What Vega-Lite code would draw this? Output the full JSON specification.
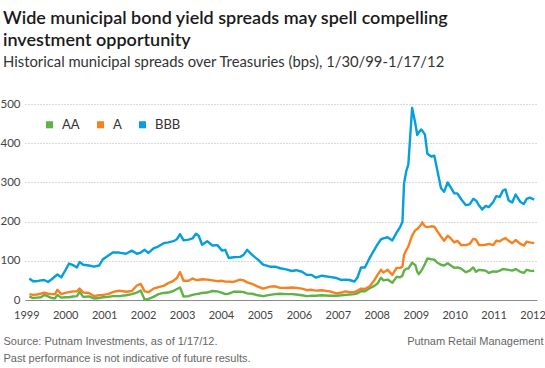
{
  "$schema": "https://vega.github.io/schema/vega-lite/v6.json",
  "width": 512,
  "height": 196,
  "autosize": {"type": "none"},
  "padding": {"left": 25, "top": 104, "right": 8, "bottom": 68},
  "background": "white",
  "title": {
    "text": ["Wide municipal bond yield spreads may spell compelling", "investment opportunity"],
    "subtitle": "Historical municipal spreads over Treasuries (bps), 1/30/99-1/17/12",
    "anchor": "start",
    "frame": "group",
    "dx": -22,
    "offset": 28,
    "font": "Lato",
    "fontSize": 18,
    "fontWeight": 600,
    "color": "#1a1a1a",
    "lineHeight": 22,
    "subtitleFont": "Lato",
    "subtitleFontSize": 14.8,
    "subtitleColor": "#333333",
    "subtitlePadding": 5
  },
  "data": {
    "values": [
      {"date": "1999-01-30", "AA": 9, "A": 15, "BBB": 55},
      {"date": "1999-03-05", "AA": 5, "A": 13, "BBB": 48},
      {"date": "1999-04-12", "AA": 6, "A": 14, "BBB": 48},
      {"date": "1999-05-18", "AA": 7, "A": 16, "BBB": 50},
      {"date": "1999-06-18", "AA": 13, "A": 19, "BBB": 51},
      {"date": "1999-07-24", "AA": 9, "A": 16, "BBB": 46},
      {"date": "1999-08-28", "AA": 5, "A": 15, "BBB": 53},
      {"date": "1999-09-27", "AA": 4, "A": 15, "BBB": 60},
      {"date": "1999-10-20", "AA": 13, "A": 26, "BBB": 65},
      {"date": "1999-11-25", "AA": 6, "A": 15, "BBB": 58},
      {"date": "2000-01-01", "AA": 7, "A": 18, "BBB": 75},
      {"date": "2000-02-06", "AA": 7, "A": 20, "BBB": 93},
      {"date": "2000-03-14", "AA": 9, "A": 22, "BBB": 89},
      {"date": "2000-04-20", "AA": 10, "A": 22, "BBB": 83},
      {"date": "2000-05-15", "AA": 21, "A": 29, "BBB": 97},
      {"date": "2000-06-18", "AA": 8, "A": 19, "BBB": 90},
      {"date": "2000-08-10", "AA": 9, "A": 18, "BBB": 88},
      {"date": "2000-09-27", "AA": 4, "A": 10, "BBB": 85},
      {"date": "2000-11-14", "AA": 5, "A": 12, "BBB": 88},
      {"date": "2000-12-20", "AA": 7, "A": 13, "BBB": 104},
      {"date": "2001-02-06", "AA": 8, "A": 15, "BBB": 113},
      {"date": "2001-03-22", "AA": 10, "A": 20, "BBB": 121},
      {"date": "2001-05-19", "AA": 10, "A": 24, "BBB": 121},
      {"date": "2001-07-24", "AA": 12, "A": 21, "BBB": 118},
      {"date": "2001-09-17", "AA": 15, "A": 23, "BBB": 126},
      {"date": "2001-11-03", "AA": 19, "A": 37, "BBB": 118},
      {"date": "2001-12-09", "AA": 24, "A": 41, "BBB": 121},
      {"date": "2002-01-15", "AA": 1, "A": 22, "BBB": 128},
      {"date": "2002-02-20", "AA": 3, "A": 20, "BBB": 120},
      {"date": "2002-04-08", "AA": 8, "A": 29, "BBB": 132},
      {"date": "2002-05-26", "AA": 15, "A": 33, "BBB": 137},
      {"date": "2002-07-12", "AA": 18, "A": 36, "BBB": 145},
      {"date": "2002-08-25", "AA": 19, "A": 43, "BBB": 147},
      {"date": "2002-10-12", "AA": 23, "A": 49, "BBB": 150},
      {"date": "2002-11-14", "AA": 28, "A": 56, "BBB": 155},
      {"date": "2002-12-13", "AA": 32, "A": 71, "BBB": 168},
      {"date": "2003-01-15", "AA": 9, "A": 49, "BBB": 152},
      {"date": "2003-03-03", "AA": 10, "A": 49, "BBB": 154},
      {"date": "2003-04-09", "AA": 13, "A": 55, "BBB": 157},
      {"date": "2003-05-11", "AA": 15, "A": 51, "BBB": 169},
      {"date": "2003-06-06", "AA": 16, "A": 51, "BBB": 164},
      {"date": "2003-07-08", "AA": 18, "A": 53, "BBB": 141},
      {"date": "2003-08-25", "AA": 19, "A": 52, "BBB": 150},
      {"date": "2003-10-12", "AA": 23, "A": 50, "BBB": 139},
      {"date": "2003-11-28", "AA": 22, "A": 48, "BBB": 140},
      {"date": "2004-01-12", "AA": 18, "A": 49, "BBB": 126},
      {"date": "2004-02-10", "AA": 15, "A": 47, "BBB": 128},
      {"date": "2004-03-14", "AA": 16, "A": 47, "BBB": 107},
      {"date": "2004-04-27", "AA": 21, "A": 46, "BBB": 109},
      {"date": "2004-06-28", "AA": 21, "A": 52, "BBB": 110},
      {"date": "2004-07-31", "AA": 20, "A": 50, "BBB": 115},
      {"date": "2004-09-02", "AA": 17, "A": 45, "BBB": 128},
      {"date": "2004-10-19", "AA": 16, "A": 41, "BBB": 115},
      {"date": "2004-12-13", "AA": 12, "A": 34, "BBB": 103},
      {"date": "2005-01-30", "AA": 10, "A": 29, "BBB": 90},
      {"date": "2005-04-05", "AA": 13, "A": 34, "BBB": 85},
      {"date": "2005-05-23", "AA": 15, "A": 35, "BBB": 85},
      {"date": "2005-07-09", "AA": 16, "A": 31, "BBB": 81},
      {"date": "2005-09-02", "AA": 15, "A": 31, "BBB": 78},
      {"date": "2005-10-27", "AA": 15, "A": 32, "BBB": 74},
      {"date": "2005-12-06", "AA": 14, "A": 31, "BBB": 76},
      {"date": "2006-01-30", "AA": 12, "A": 29, "BBB": 72},
      {"date": "2006-03-18", "AA": 10, "A": 25, "BBB": 64},
      {"date": "2006-05-01", "AA": 11, "A": 26, "BBB": 64},
      {"date": "2006-06-10", "AA": 11, "A": 24, "BBB": 57},
      {"date": "2006-08-04", "AA": 12, "A": 25, "BBB": 62},
      {"date": "2006-10-16", "AA": 11, "A": 22, "BBB": 59},
      {"date": "2006-12-20", "AA": 11, "A": 17, "BBB": 56},
      {"date": "2007-02-06", "AA": 12, "A": 19, "BBB": 51},
      {"date": "2007-03-14", "AA": 13, "A": 22, "BBB": 52},
      {"date": "2007-04-23", "AA": 14, "A": 20, "BBB": 51},
      {"date": "2007-06-06", "AA": 15, "A": 20, "BBB": 47},
      {"date": "2007-07-05", "AA": 17, "A": 24, "BBB": 58},
      {"date": "2007-08-07", "AA": 23, "A": 29, "BBB": 83},
      {"date": "2007-09-12", "AA": 22, "A": 28, "BBB": 83},
      {"date": "2007-10-26", "AA": 30, "A": 35, "BBB": 107},
      {"date": "2007-12-09", "AA": 36, "A": 50, "BBB": 128},
      {"date": "2008-01-08", "AA": 42, "A": 64, "BBB": 142},
      {"date": "2008-02-10", "AA": 57, "A": 77, "BBB": 155},
      {"date": "2008-03-03", "AA": 50, "A": 70, "BBB": 157},
      {"date": "2008-04-12", "AA": 52, "A": 77, "BBB": 160},
      {"date": "2008-05-26", "AA": 44, "A": 64, "BBB": 152},
      {"date": "2008-07-05", "AA": 59, "A": 82, "BBB": 172},
      {"date": "2008-08-07", "AA": 58, "A": 82, "BBB": 186},
      {"date": "2008-08-29", "AA": 62, "A": 85, "BBB": 199},
      {"date": "2008-09-13", "AA": 75, "A": 115, "BBB": 297},
      {"date": "2008-10-05", "AA": 80, "A": 128, "BBB": 330},
      {"date": "2008-10-23", "AA": 80, "A": 136, "BBB": 345},
      {"date": "2008-11-28", "AA": 95, "A": 165, "BBB": 490},
      {"date": "2008-12-28", "AA": 89, "A": 178, "BBB": 450},
      {"date": "2009-01-15", "AA": 72, "A": 181, "BBB": 421},
      {"date": "2009-01-30", "AA": 66, "A": 185, "BBB": 428},
      {"date": "2009-02-20", "AA": 74, "A": 193, "BBB": 435},
      {"date": "2009-03-03", "AA": 79, "A": 198, "BBB": 432},
      {"date": "2009-03-28", "AA": 92, "A": 188, "BBB": 422},
      {"date": "2009-04-20", "AA": 106, "A": 186, "BBB": 373},
      {"date": "2009-05-26", "AA": 104, "A": 188, "BBB": 366},
      {"date": "2009-06-24", "AA": 103, "A": 187, "BBB": 368},
      {"date": "2009-07-23", "AA": 95, "A": 175, "BBB": 330},
      {"date": "2009-08-25", "AA": 90, "A": 162, "BBB": 286},
      {"date": "2009-09-24", "AA": 88, "A": 151, "BBB": 276},
      {"date": "2009-10-27", "AA": 94, "A": 164, "BBB": 300},
      {"date": "2009-11-25", "AA": 88, "A": 157, "BBB": 287},
      {"date": "2009-12-28", "AA": 82, "A": 147, "BBB": 272},
      {"date": "2010-01-26", "AA": 83, "A": 151, "BBB": 272},
      {"date": "2010-03-03", "AA": 80, "A": 140, "BBB": 257},
      {"date": "2010-04-16", "AA": 71, "A": 140, "BBB": 242},
      {"date": "2010-05-22", "AA": 75, "A": 143, "BBB": 244},
      {"date": "2010-06-24", "AA": 83, "A": 156, "BBB": 258},
      {"date": "2010-07-20", "AA": 72, "A": 154, "BBB": 254},
      {"date": "2010-08-18", "AA": 77, "A": 140, "BBB": 241},
      {"date": "2010-09-16", "AA": 76, "A": 140, "BBB": 231},
      {"date": "2010-10-19", "AA": 75, "A": 141, "BBB": 240},
      {"date": "2010-11-17", "AA": 69, "A": 143, "BBB": 237},
      {"date": "2010-12-28", "AA": 73, "A": 140, "BBB": 250},
      {"date": "2011-01-26", "AA": 72, "A": 151, "BBB": 265},
      {"date": "2011-02-28", "AA": 75, "A": 150, "BBB": 263},
      {"date": "2011-03-29", "AA": 79, "A": 155, "BBB": 279},
      {"date": "2011-04-23", "AA": 78, "A": 158, "BBB": 282},
      {"date": "2011-05-22", "AA": 77, "A": 151, "BBB": 254},
      {"date": "2011-06-24", "AA": 75, "A": 145, "BBB": 249},
      {"date": "2011-07-27", "AA": 79, "A": 153, "BBB": 269},
      {"date": "2011-09-09", "AA": 72, "A": 143, "BBB": 250},
      {"date": "2011-10-12", "AA": 69, "A": 139, "BBB": 245},
      {"date": "2011-11-07", "AA": 77, "A": 149, "BBB": 258},
      {"date": "2011-12-06", "AA": 75, "A": 147, "BBB": 261},
      {"date": "2012-01-17", "AA": 74, "A": 145, "BBB": 256}
    ]
  },
  "transform": [{"fold": ["AA", "A", "BBB"], "as": ["series", "value"]}],
  "mark": {"type": "line", "strokeWidth": 2.4, "strokeJoin": "round"},
  "encoding": {
    "x": {
      "field": "date",
      "type": "temporal",
      "scale": {"type": "utc", "domain": [{"year": 1998, "month": 12, "date": 20, "utc": true}, {"year": 2012, "month": 2, "date": 12, "utc": true}]},
      "axis": {
        "tickCount": {"interval": "year", "step": 1},
        "format": "%Y",
        "formatType": "utc",
        "grid": false,
        "ticks": false,
        "tickSize": 0,
        "labelPadding": 9,
        "labelFlush": false,
        "labelOverlap": false,
        "labelFont": "Lato",
        "labelFontSize": 11,
        "labelColor": "#444444",
        "domainColor": "#8a8a8a",
        "domainWidth": 1,
        "title": ["Source: Putnam Investments, as of 1/17/12.", "Past performance is not indicative of future results."],
        "titleFont": "Liberation Sans",
        "titleFontSize": 11,
        "titleFontWeight": "normal",
        "titleColor": "#666666",
        "titleX": -22,
        "titleY": 44,
        "titleAlign": "left",
        "titleBaseline": "alphabetic",
        "titleLineHeight": 17
      }
    },
    "y": {
      "field": "value",
      "type": "quantitative",
      "scale": {"domain": [0, 500]},
      "axis": {
        "values": [0, 100, 200, 300, 400, 500],
        "grid": true,
        "gridDash": [1, 2],
        "gridColor": "#b5b5b5",
        "gridWidth": 1,
        "domain": false,
        "ticks": false,
        "tickSize": 0,
        "labelPadding": 5,
        "labelFont": "Lato",
        "labelFontSize": 11.5,
        "labelColor": "#444444",
        "title": "Putnam Retail Management",
        "titleFont": "Liberation Sans",
        "titleFontSize": 11,
        "titleFontWeight": "normal",
        "titleColor": "#666666",
        "titleAngle": 0,
        "titleX": 518,
        "titleY": 240,
        "titleAlign": "right",
        "titleBaseline": "alphabetic"
      }
    },
    "color": {
      "field": "series",
      "type": "nominal",
      "scale": {"domain": ["AA", "A", "BBB"], "range": ["#5fb246", "#f7811e", "#05a0dc"]},
      "legend": {
        "orient": "none",
        "legendX": 18,
        "legendY": 14,
        "direction": "horizontal",
        "title": null,
        "symbolType": "square",
        "symbolSize": 50,
        "symbolStrokeWidth": 0,
        "labelFont": "Lato",
        "labelFontSize": 13,
        "labelColor": "#333333",
        "labelOffset": 6,
        "columnPadding": 14,
        "encode": {"symbols": {"update": {"fill": {"scale": "color", "field": "value"}, "strokeWidth": {"value": 0}}}}
      }
    }
  },
  "config": {"view": {"stroke": null}}
}
